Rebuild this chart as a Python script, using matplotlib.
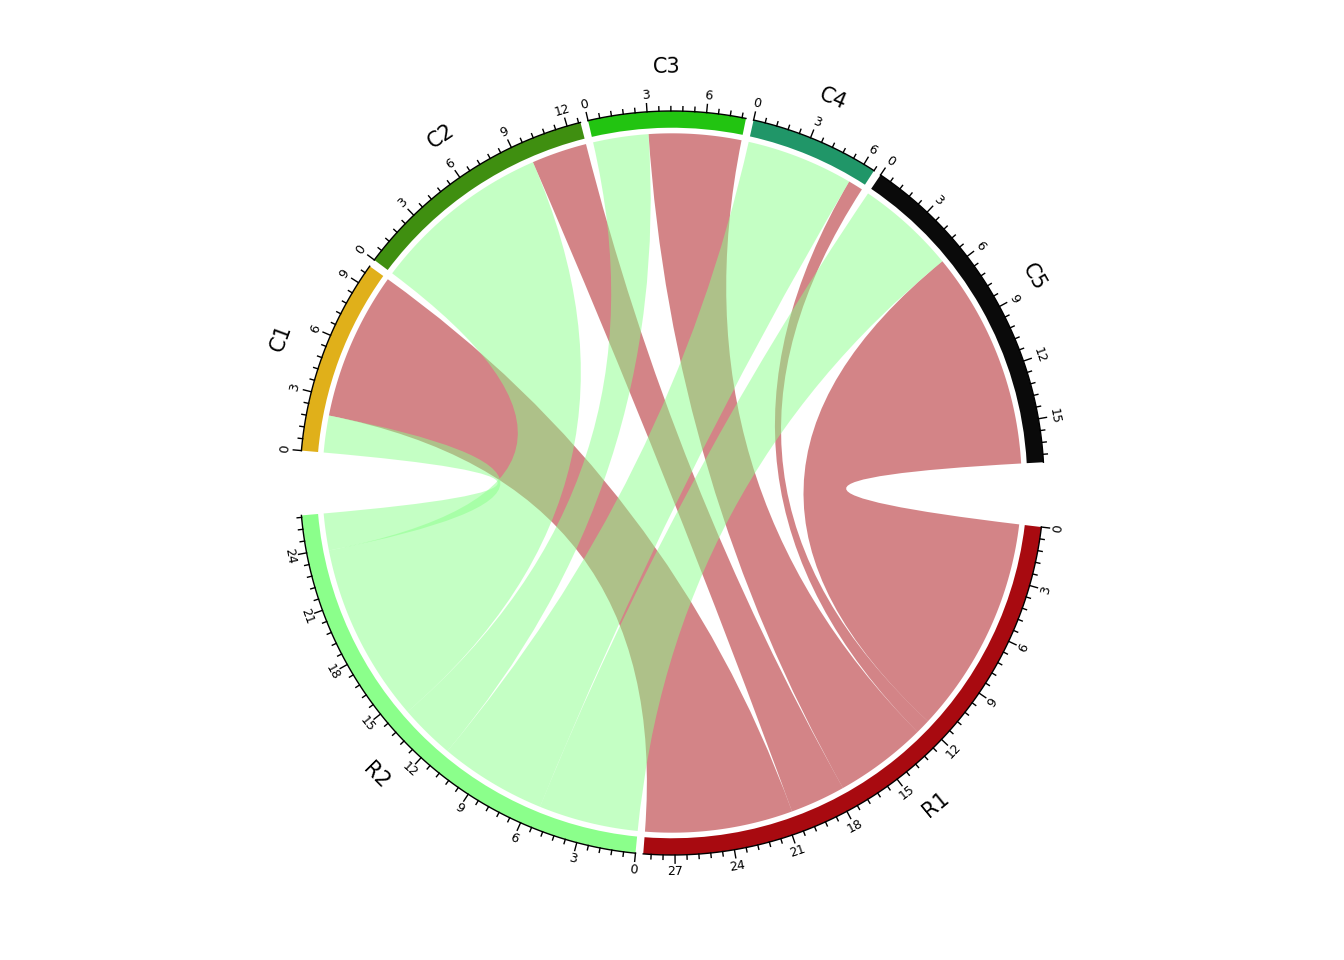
import numpy as np
import matplotlib
matplotlib.use("Agg")
import matplotlib.pyplot as plt
from matplotlib.path import Path
from matplotlib.patches import PathPatch, Wedge

# link matrix: rows R1, R2 ; columns C1..C5
rows = ["R1", "R2"]
cols = ["C1", "C2", "C3", "C4", "C5"]
r1_vals = [8.0, 3.0, 5.0, 0.8, 11.8]
r2_vals = [2.0, 9.7, 3.0, 5.8, 5.4]
sector_colors = {"C1": "#E0B01A", "C2": "#3F8F10", "C3": "#22C411", "C4": "#209668",
                 "C5": "#0A0A0A", "R1": "#A80A10", "R2": "#8BFF8B"}

mat = np.array([r1_vals, r2_vals])
order = cols + rows
sizes = {c: mat[:, j].sum() for j, c in enumerate(cols)}
sizes.update({r: mat[i].sum() for i, r in enumerate(rows)})

small_gap, big_gap = 1.2, 10.0
gaps = {"C1": small_gap, "C2": small_gap, "C3": small_gap, "C4": small_gap,
        "C5": big_gap, "R1": small_gap, "R2": big_gap}
unit = (360 - sum(gaps.values())) / sum(sizes.values())

# clockwise layout starting at 175 deg
start = {}
a = 180 - big_gap / 2
for s in order:
    start[s] = a
    a -= sizes[s] * unit + gaps[s]


def ang(s, v):
    return start[s] - v * unit


fig = plt.figure(figsize=(13.44, 9.6), dpi=100)
ax = fig.add_axes([0, 0, 1, 1])
ax.set_xlim(-672 / 372, 672 / 372)
ax.set_ylim(-(960 - 483) / 372, 483 / 372)
ax.set_aspect("equal")
ax.axis("off")

r_out, r_in, r_link = 1.0, 0.955, 0.94

# sectors, ticks, labels
for s in order:
    a0, a1 = ang(s, sizes[s]), start[s]
    ax.add_patch(Wedge((0, 0), r_out, a0, a1, width=r_out - r_in, color=sector_colors[s], lw=0))
    t = np.linspace(np.radians(a0), np.radians(a1), 100)
    ax.plot(np.cos(t), np.sin(t), color="black", lw=1)
    for k, v in enumerate(np.arange(0, sizes[s] + 1e-6, 0.6)):
        th = np.radians(ang(s, v))
        major = k % 5 == 0
        L = 0.022 if major else 0.012
        ax.plot([np.cos(th), (1 + L) * np.cos(th)], [np.sin(th), (1 + L) * np.sin(th)],
                color="black", lw=1)
        if major:
            deg = np.degrees(th)
            rot = deg - 90 if np.sin(th) > 0 else deg + 90
            ax.text(1.045 * np.cos(th), 1.045 * np.sin(th), f"{v:.0f}", rotation=rot,
                    ha="center", va="center", fontsize=9, rotation_mode="anchor")
    mid = np.radians(ang(s, sizes[s] / 2))
    deg = np.degrees(mid)
    rot = deg - 90 if np.sin(mid) > 0 else deg + 90
    ax.text(1.12 * np.cos(mid), 1.12 * np.sin(mid), s, rotation=rot, ha="center",
            va="center", fontsize=15, rotation_mode="anchor")


def arc(a0, a1, r, n=40):
    t = np.radians(np.linspace(a0, a1, n))
    return np.column_stack([r * np.cos(t), r * np.sin(t)])


def chord(p0, p1, q0, q1, color):
    A = arc(p0, p1, r_link)
    B = arc(q0, q1, r_link)
    verts = list(A) + [(0, 0), B[0]] + list(B[1:]) + [(0, 0), A[0]]
    codes = ([Path.MOVETO] + [Path.LINETO] * (len(A) - 1) + [Path.CURVE3, Path.CURVE3]
             + [Path.LINETO] * (len(B) - 1) + [Path.CURVE3, Path.CURVE3])
    ax.add_patch(PathPatch(Path(verts, codes), facecolor=color, edgecolor="none", alpha=0.5))


# positions inside column sectors: R2 first then R1
col_pos = {}
for j, c in enumerate(cols):
    off = 0
    for i in [1, 0]:
        col_pos[(i, j)] = (off, off + mat[i, j])
        off += mat[i, j]
# positions inside row sectors: C5 first ... C1 last
row_pos = {}
for i, r in enumerate(rows):
    off = 0
    for j in range(len(cols) - 1, -1, -1):
        row_pos[(i, j)] = (off, off + mat[i, j])
        off += mat[i, j]

for i in [0, 1]:
    for j, c in enumerate(cols):
        c0, c1 = col_pos[(i, j)]
        w0, w1 = row_pos[(i, j)]
        chord(ang(c, c0), ang(c, c1), ang(rows[i], w0), ang(rows[i], w1),
              sector_colors[rows[i]])

fig.savefig("out.png", dpi=100)
